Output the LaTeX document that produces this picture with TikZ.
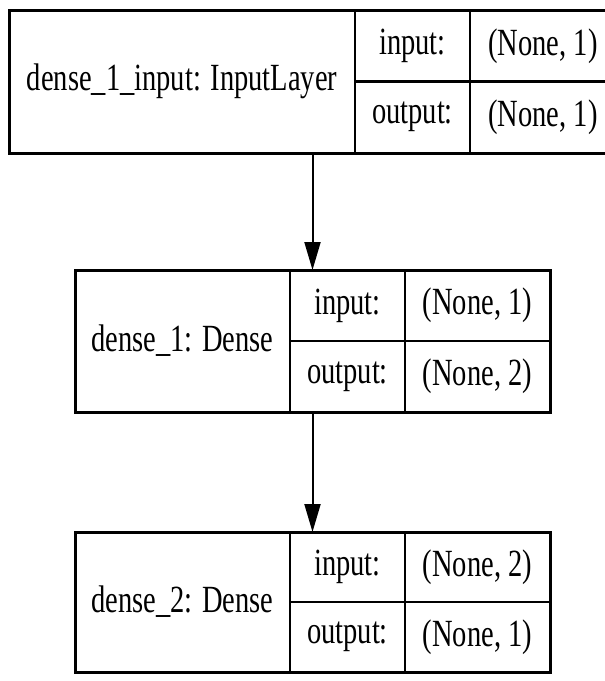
\documentclass[tikz,border=0pt]{standalone}
\usepackage{fontspec}
\setmainfont{Liberation Serif}
\usetikzlibrary{arrows.meta}

\newcommand{\tall}[1]{\scalebox{1}[1.35]{#1}}

\begin{document}
\begin{tikzpicture}[x=1pt,y=-1pt,>={Triangle[length=28pt,width=16pt]},
        layer node/.style={draw,line width=3pt,inner sep=0pt,outer sep=0pt},
        field node/.style={draw,line width=2.5pt,inner sep=0pt,outer sep=0pt,
          font=\fontsize{28.5}{30}\selectfont}]
        \useasboundingbox (0,0) rectangle (605,681);
        % input layer
        \node[layer node, minimum width=607, minimum height=143] (l0) at (312.5,81.5) {};
        \node[field node, minimum width=346, minimum height=143] (l0name) at (182,81.5) {\tall{dense\_1\_input: InputLayer}};
        \node[field node, minimum width=115, minimum height=71.5] (l0in) at (412.5,45.75) {\tall{input:}};
        \node[field node, minimum width=115, minimum height=71.5] (l0out) at (412.5,117.25) {\tall{output:}};
        \node[field node, minimum width=146, minimum height=71.5] (l0inv) at (543,45.75) {\tall{(None, 1)}};
        \node[field node, minimum width=146, minimum height=71.5] (l0outv) at (543,117.25) {\tall{(None, 1)}};
        % dense 1
        \node[layer node, minimum width=475, minimum height=142] (l1) at (312.5,341) {};
        \node[field node, minimum width=215, minimum height=142] (l1name) at (182.5,341) {\tall{dense\_1: Dense}};
        \node[field node, minimum width=115, minimum height=71] (l1in) at (347.5,305.5) {\tall{input:}};
        \node[field node, minimum width=115, minimum height=71] (l1out) at (347.5,376.5) {\tall{output:}};
        \node[field node, minimum width=145, minimum height=71] (l1inv) at (477.5,305.5) {\tall{(None, 1)}};
        \node[field node, minimum width=145, minimum height=71] (l1outv) at (477.5,376.5) {\tall{(None, 2)}};
        % dense 2
        \node[layer node, minimum width=475, minimum height=140] (l2) at (312.5,602) {};
        \node[field node, minimum width=215, minimum height=140] (l2name) at (182.5,602) {\tall{dense\_2: Dense}};
        \node[field node, minimum width=115, minimum height=70] (l2in) at (347.5,567) {\tall{input:}};
        \node[field node, minimum width=115, minimum height=70] (l2out) at (347.5,637) {\tall{output:}};
        \node[field node, minimum width=145, minimum height=70] (l2inv) at (477.5,567) {\tall{(None, 2)}};
        \node[field node, minimum width=145, minimum height=70] (l2outv) at (477.5,637) {\tall{(None, 1)}};
        \path[->,line width=2pt]
        (l0) edge (l1)
        (l1) edge (l2)
        ;
\end{tikzpicture}
\end{document}
